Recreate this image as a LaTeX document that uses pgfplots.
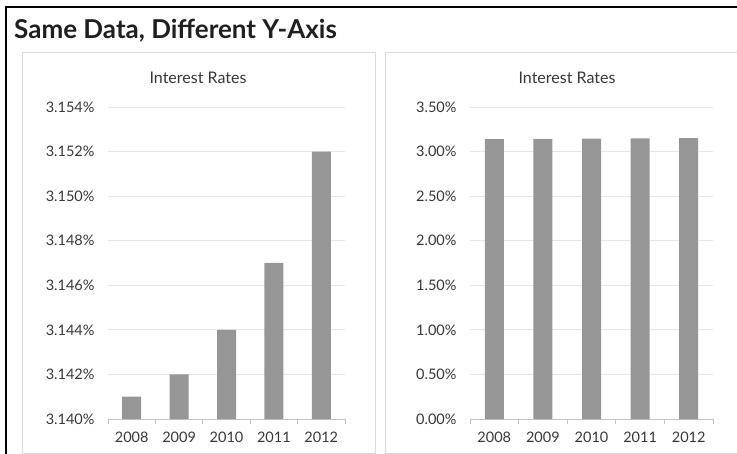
\documentclass[border=0pt]{standalone}
\usepackage{fontspec}
\setmainfont{Lato}
\usepackage{pgfplots}
\pgfplotsset{compat=1.18}

\definecolor{barc}{RGB}{150,150,150}
\definecolor{gridc}{RGB}{230,230,230}
\definecolor{axisc}{RGB}{195,195,195}
\definecolor{panelc}{RGB}{218,218,218}
\definecolor{txtc}{RGB}{55,55,55}

\pgfplotsset{
  ratebars/.style={
    scale only axis,
    height=312pt,
    ybar, bar width=19pt,
    xmin=-0.5, xmax=4.5,
    xtick={0,...,4},
    xticklabels={2008,2009,2010,2011,2012},
    minor xtick={-0.5,0.5,...,4.5},
    xtick align=outside,
    major tick length=0pt,
    minor tick length=5pt,
    minor x tick style={draw=axisc, line width=0.8pt},
    axis lines*=left,
    x axis line style={draw=axisc, line width=0.8pt},
    y axis line style={draw=none},
    ytick style={draw=none},
    ymajorgrids, grid style={draw=gridc, line width=0.8pt},
    scaled y ticks=false,
    tick label style={font=\fontsize{14.5}{16}\selectfont, text=txtc},
    xticklabel style={yshift=-9pt},
    yticklabel style={xshift=-10pt},
    /pgf/number format/assume math mode=true,
  },
}

\begin{document}
\begin{tikzpicture}
\useasboundingbox (0,0) rectangle (737pt,-454pt);

% outer frame
\draw[black, line width=2pt] (6pt,-454pt) -- (6pt,-7pt) -- (737pt,-7pt);
\node[anchor=base west, inner sep=0pt, text=black!88]
  at (14pt,-39pt) {\fontsize{26}{30}\selectfont\bfseries Same Data, Different Y-Axis};

% panels
\draw[panelc, line width=0.8pt] (22pt,-453pt) rectangle (375pt,-52pt);
\draw[panelc, line width=0.8pt] (385pt,-453pt) rectangle (760pt,-52pt);

\node[text=txtc] at (198pt,-78pt) {\fontsize{16}{18}\selectfont Interest Rates};
\node[text=txtc] at (567pt,-78pt) {\fontsize{16}{18}\selectfont Interest Rates};

\begin{axis}[ratebars,
    at={(108pt,-419pt)}, anchor=south west,
    width=237pt,
    ymin=3.140, ymax=3.154,
    ytick={3.140,3.142,3.144,3.146,3.148,3.150,3.152,3.154},
    yticklabel={\pgfmathprintnumber[fixed,fixed zerofill,precision=3]{\tick}\%},
]
\addplot[fill=barc, draw=none] coordinates {
    (0,3.141) (1,3.142) (2,3.144) (3,3.147) (4,3.152)
};
\end{axis}

\begin{axis}[ratebars,
    at={(470pt,-419pt)}, anchor=south west,
    width=243pt,
    ymin=0, ymax=3.5,
    ytick={0,0.5,1,1.5,2,2.5,3,3.5},
    yticklabel={\pgfmathprintnumber[fixed,fixed zerofill,precision=2]{\tick}\%},
]
\addplot[fill=barc, draw=none] coordinates {
    (0,3.141) (1,3.142) (2,3.144) (3,3.147) (4,3.152)
};
\end{axis}
\end{tikzpicture}
\end{document}
